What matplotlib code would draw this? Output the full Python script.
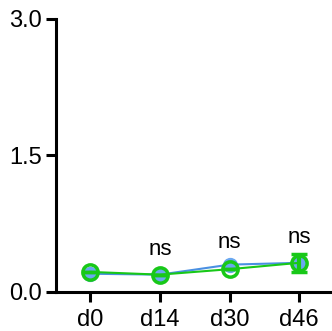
import numpy as np
import matplotlib
matplotlib.use("Agg")
import matplotlib.pyplot as plt

plt.rcParams['font.family'] = ['Liberation Sans', 'DejaVu Sans']

days = ["d0", "d14", "d30", "d46"]
blue_vals = [0.20, 0.19, 0.30, 0.32]
green_vals = [0.22, 0.19, 0.25, 0.32]
green_err = [0.0, 0.0, 0.0, 0.10]
sig_labels = ["", "ns", "ns", "ns"]
sig_heights = [0.0, 0.41, 0.48, 0.54]

fig = plt.figure(figsize=(3.32, 3.31), dpi=100)
ax = fig.add_axes([0.169, 0.118, 0.831, 0.825])

x = np.arange(len(days))
ax.plot(x, blue_vals, color="#4a90e2", lw=1.5, marker="o", ms=10,
        mfc="#6aa8f0", mec="#6aa8f0", zorder=2)
ax.errorbar(x, green_vals, yerr=green_err, color="#18c818", lw=1.5,
            marker="o", ms=11, mfc="none", mec="#18c818", mew=2.5,
            elinewidth=3, capsize=6, capthick=3, zorder=3)

for xi, lab, h in zip(x, sig_labels, sig_heights):
    if lab:
        ax.text(xi, h, lab, ha="center", va="baseline", fontsize=16)

ax.set_xlim(-0.49, 3.47)
ax.set_ylim(0, 3.0)
ax.set_yticks([0, 1.5, 3.0])
ax.set_yticklabels(["0.0", "1.5", "3.0"])
ax.set_xticks(x)
ax.set_xticklabels(days)

for side in ["top", "right"]:
    ax.spines[side].set_visible(False)
for side in ["left", "bottom"]:
    ax.spines[side].set_linewidth(2.2)
ax.tick_params(axis="both", width=2.2, length=7.5, labelsize=17, pad=3)
ax.tick_params(axis="x", pad=5)

fig.savefig("out.png", dpi=100)
